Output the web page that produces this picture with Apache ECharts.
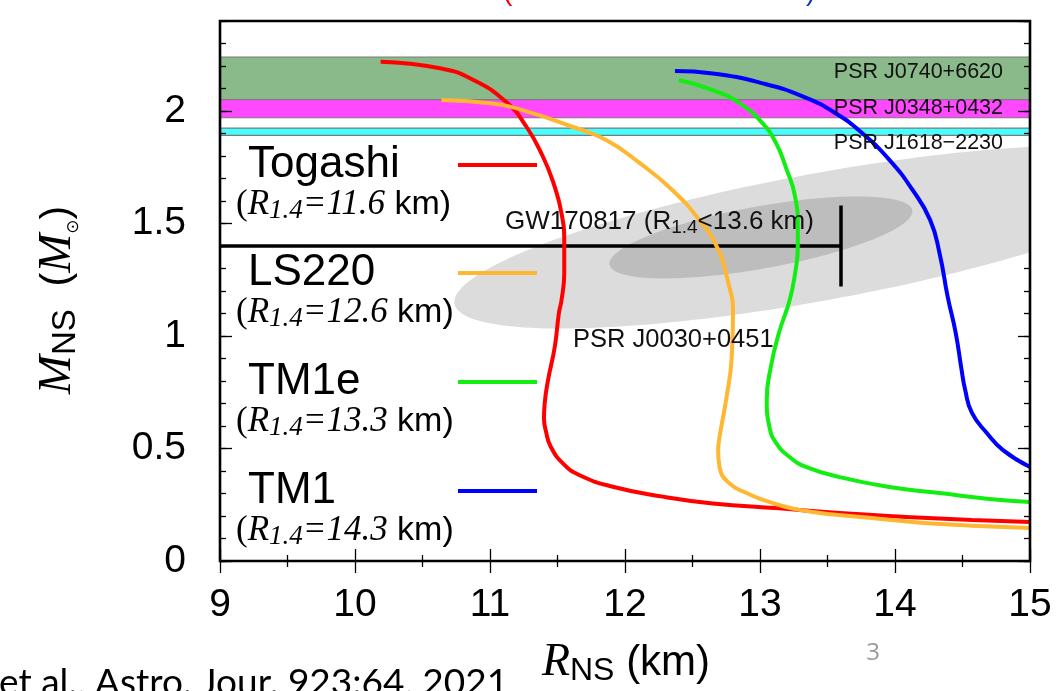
<!DOCTYPE html>
<html>
<head>
<meta charset="utf-8">
<script src="https://cdn.jsdelivr.net/npm/echarts@6/dist/echarts.min.js"></script>
<style>
html,body{margin:0;padding:0;background:#fff;}
#chart{width:1064px;height:691px;}
</style>
</head>
<body>
<div id="chart"></div>
<script>
// Mass–radius relations [R (km), M (Msun)] for four equations of state
const togashi = [[10.19,2.219],[10.63,2.19],[10.87,2.14],[11.12,2.04],[11.27,1.93],[11.39,1.80],[11.47,1.68],[11.53,1.545],[11.55,1.41],[11.55,1.28],[11.53,1.16],[11.51,1.10],[11.48,0.952],[11.43,0.804],[11.405,0.70],[11.40,0.635],[11.415,0.575],[11.45,0.508],[11.54,0.434],[11.66,0.382],[11.91,0.330],[12.28,0.286],[12.65,0.256],[13.14,0.234],[13.59,0.213],[14.08,0.196],[14.57,0.182],[15.0,0.173]];
const ls220 = [[10.64,2.049],[11.00,2.034],[11.24,2.004],[11.61,1.93],[11.86,1.871],[12.11,1.768],[12.35,1.649],[12.55,1.516],[12.68,1.397],[12.76,1.249],[12.80,1.10],[12.79,0.90],[12.75,0.72],[12.70,0.55],[12.69,0.49],[12.70,0.418],[12.77,0.347],[12.90,0.302],[13.09,0.258],[13.39,0.218],[13.83,0.191],[14.33,0.164],[15.0,0.147]];
const tm1e = [[12.40,2.138],[12.65,2.093],[12.85,2.034],[13.02,1.945],[13.12,1.856],[13.19,1.752],[13.26,1.619],[13.28,1.486],[13.28,1.397],[13.26,1.279],[13.22,1.16],[13.14,1.013],[13.08,0.862],[13.05,0.716],[13.07,0.596],[13.12,0.524],[13.22,0.462],[13.34,0.418],[13.59,0.373],[13.96,0.329],[14.33,0.302],[14.70,0.276],[15.0,0.262]];
const tm1 = [[12.37,2.178],[12.65,2.167],[13.02,2.123],[13.32,2.064],[13.56,1.99],[13.76,1.90],[13.96,1.782],[14.13,1.649],[14.26,1.516],[14.33,1.368],[14.39,1.175],[14.45,1.013],[14.49,0.862],[14.52,0.76],[14.57,0.658],[14.68,0.569],[14.80,0.493],[15.0,0.418]];

const eosNames = ['Togashi','LS220','TM1e','TM1'];
const eosR14 = ['11.6','12.6','13.3','14.3'];
const eosColors = ['#ff0000','#ffb630','#12ee12','#0000ff'];

// Pulsar mass measurements [low, high] (Msun)
const pulsarNames = ['PSR J0740+6620','PSR J0348+0432','PSR J1618\u22122230'];
const pulsarMass = [[2.05,2.24],[1.97,2.05],[1.892,1.924]];
const pulsarColors = ['#8aba8a','#ff48ff','#48ffff'];

// NICER PSR J0030+0451 regions: [centre R, centre M, sigma R, sigma M, correlation]
const nicerOuter = [13.44,1.44,2.704,0.4067,0.709];
const nicerInner = [13.007,1.438,1.122,0.1822,0.637];
const regionColors = ['#dcdcdc','#bdbdbd'];

// GW170817 tidal-deformability bound on R_1.4
const gwMass = 1.4;
const gwRmax = 13.6;
const gwCapHalf = 0.18;

const X_MIN = 9, X_MAX = 15, Y_MIN = 0, Y_MAX = 2.4;
const GRID = {left:220, top:21, width:810, height:540};
const SANS = 'Liberation Sans, Arial, Helvetica, sans-serif';
const SERIF = 'Liberation Serif, Times New Roman, serif';

function xAxisDef(position, showLabel){
  return {
    type:'value', min:X_MIN, max:X_MAX, interval:1, position:position, z:1,
    axisLine:{show:false},
    axisTick:{show:true, inside:true, length:12, lineStyle:{color:'#000', width:1.3}},
    minorTick:{show:true, splitNumber:2, length:6, lineStyle:{color:'#000', width:1.3}},
    axisLabel:{show:showLabel, fontSize:39, color:'#000', fontFamily:SANS, margin:25},
    splitLine:{show:false}, minorSplitLine:{show:false}
  };
}
function yAxisDef(position, interval, len, showLabel){
  return {
    type:'value', min:Y_MIN, max:Y_MAX, interval:interval, position:position, z:1,
    axisLine:{show:false},
    axisTick:{show:true, inside:true, length:len, lineStyle:{color:'#000', width:1.3}},
    axisLabel:{show:showLabel, fontSize:39, color:'#000', fontFamily:SANS, margin:34, showMaxLabel:false},
    splitLine:{show:false}
  };
}

function renderBand(params, api){
  const a = api.coord([api.value(0), api.value(3)]);
  const b = api.coord([api.value(2), api.value(1)]);
  return {type:'rect', shape:{x:a[0], y:a[1], width:b[0]-a[0], height:b[1]-a[1]},
    style:{fill:pulsarColors[params.dataIndex], stroke:'#7a7a7a', lineWidth:1.2}};
}

function renderRegion(params, api){
  const cR = api.value(0), cM = api.value(1), sR = api.value(2), sM = api.value(3), rho = api.value(4);
  const k = Math.sqrt(1 - rho*rho);
  const pts = [];
  for (let j = 0; j <= 180; j++){
    const t = j/180*2*Math.PI, c = Math.cos(t), s = Math.sin(t);
    pts.push(api.coord([cR + sR*c, cM + sM*(rho*c + k*s)]));
  }
  const cs = params.coordSys;
  return {type:'polygon', shape:{points:pts}, style:{fill:regionColors[params.dataIndex]},
    clipPath:{type:'rect', shape:{x:cs.x, y:cs.y, width:cs.width, height:cs.height}}};
}

const eosData = [togashi, ls220, tm1e, tm1];
const curveSeries = eosData.map((d,i) => ({
  type:'line', name:eosNames[i], data:d, smooth:0.5, showSymbol:false, clip:true,
  lineStyle:{color:eosColors[i], width:4}, z:4, silent:true
}));

// Legend block and annotations (pixel layout)
const graphics = [];
const legendY = [165, 273, 382, 491];
eosNames.forEach((n,i) => {
  const y = legendY[i];
  graphics.push({type:'text', x:248, y:y, z:50, style:{text:n, fontSize:44, fontFamily:SANS, fill:'#000', align:'left', verticalAlign:'middle', textAlign:'left', textVerticalAlign:'middle'}});
  graphics.push({type:'line', z:50, shape:{x1:458, y1:y, x2:537, y2:y}, style:{stroke:eosColors[i], lineWidth:4}});
  graphics.push({type:'text', x:236, y:y+40, z:50, style:{
    text:'{p|(}{i|R}{s|1.4}{i|=' + eosR14[i] + '}{n| km)}',
    align:'left', verticalAlign:'middle', textAlign:'left', textVerticalAlign:'middle',
    rich:{
      p:{fontFamily:SERIF, fontSize:35, lineHeight:38, fill:'#000'},
      i:{fontFamily:SERIF, fontStyle:'italic', fontSize:35, lineHeight:38, fill:'#000'},
      s:{fontFamily:SERIF, fontStyle:'italic', fontSize:27, lineHeight:20, verticalAlign:'bottom', fill:'#000'},
      n:{fontFamily:SANS, fontSize:34, lineHeight:38, fill:'#000'}
    }}});
});

const psrLabelY = [72, 108, 143];
pulsarNames.forEach((n,i) => {
  graphics.push({type:'text', x:1003, y:psrLabelY[i], z:50, style:{text:n, fontSize:21.5, fontFamily:SANS, fill:'#111', align:'right', verticalAlign:'middle', textAlign:'right', textVerticalAlign:'middle'}});
});
graphics.push({type:'text', x:573, y:340, z:50, style:{text:'PSR J0030+0451', fontSize:25.5, fontFamily:SANS, fill:'#111', align:'left', verticalAlign:'middle', textAlign:'left', textVerticalAlign:'middle'}});
graphics.push({type:'text', x:505, y:222, z:50, style:{
  text:'{n|GW170817 (R}{s|1.4}{n|<13.6 km)}', align:'left', verticalAlign:'middle', textAlign:'left', textVerticalAlign:'middle',
  rich:{n:{fontFamily:SANS, fontSize:26, lineHeight:30, fill:'#111'}, s:{fontFamily:SANS, fontSize:19, lineHeight:16, verticalAlign:'bottom', fill:'#111'}}}});

// Axis titles
graphics.push({type:'text', x:58, y:300, rotation:Math.PI/2, z:50, style:{
  text:'{i|M}{s|NS}{n|  (}{i|M}{o|\u2299}{n|)}', align:'center', verticalAlign:'middle', textAlign:'center', textVerticalAlign:'middle',
  rich:{
    i:{fontFamily:SERIF, fontStyle:'italic', fontSize:47, lineHeight:48, fill:'#000'},
    s:{fontFamily:SANS, fontSize:33, lineHeight:30, verticalAlign:'bottom', fill:'#000'},
    n:{fontFamily:SANS, fontSize:41, lineHeight:48, fill:'#000'},
    o:{fontFamily:'DejaVu Sans', fontSize:17, lineHeight:26, verticalAlign:'bottom', fill:'#000'}
  }}});
graphics.push({type:'text', x:626, y:663, z:50, style:{
  text:'{i|R}{s|NS}{n| (km)}', align:'center', verticalAlign:'middle', textAlign:'center', textVerticalAlign:'middle',
  rich:{
    i:{fontFamily:SERIF, fontStyle:'italic', fontSize:46, lineHeight:48, fill:'#000'},
    s:{fontFamily:SANS, fontSize:32, lineHeight:30, verticalAlign:'bottom', fill:'#000'},
    n:{fontFamily:SANS, fontSize:42, lineHeight:48, fill:'#000'}
  }}});

// Slide furniture around the figure
graphics.push({type:'text', x:873, y:653, z:50, style:{text:'3', fontSize:24, fontFamily:'Open Sans, sans-serif', fill:'#9a9a9a', align:'center', verticalAlign:'middle', textAlign:'center', textVerticalAlign:'middle'}});
graphics.push({type:'text', x:-1, y:665, z:50, style:{text:'et al., Astro. Jour. 923:64, 2021', fontSize:37, fontFamily:'Lato, Open Sans, sans-serif', fill:'#000', align:'left', verticalAlign:'top', textAlign:'left', textVerticalAlign:'top'}});
graphics.push({type:'text', x:503, y:-22, z:50, style:{text:'(', fontSize:28, fontFamily:SANS, fill:'#ee0000', align:'left', verticalAlign:'top', textAlign:'left', textVerticalAlign:'top'}});
graphics.push({type:'text', x:806, y:-22, z:50, style:{text:')', fontSize:28, fontFamily:SANS, fill:'#1030c0', align:'left', verticalAlign:'top', textAlign:'left', textVerticalAlign:'top'}});

// Plot frame on top of everything inside the grid
graphics.push({type:'rect', z:60, shape:{x:GRID.left, y:GRID.top, width:GRID.width, height:GRID.height}, style:{fill:'none', stroke:'#000', lineWidth:2.6}});

const option = {
  animation:false,
  backgroundColor:'#ffffff',
  grid:{left:GRID.left, top:GRID.top, width:GRID.width, height:GRID.height, containLabel:false},
  xAxis:[xAxisDef('bottom', true), xAxisDef('top', false)],
  yAxis:[yAxisDef('left', 0.5, 12, true), yAxisDef('left', 0.1, 6, false), yAxisDef('right', 0.5, 12, false), yAxisDef('right', 0.1, 6, false)],
  series:[
    {type:'custom', name:'pulsars', renderItem:renderBand, encode:{x:[0,2], y:[1,3]}, z:1, silent:true,
      data:pulsarMass.map(m => [X_MIN, m[0], X_MAX, m[1]])},
    {type:'custom', name:'J0030', renderItem:renderRegion, encode:{x:0, y:1}, z:2, silent:true,
      data:[nicerOuter, nicerInner]},
    {type:'line', name:'gw', data:[[X_MIN, gwMass],[gwRmax, gwMass]], showSymbol:false, z:3, silent:true,
      lineStyle:{color:'#000', width:3.5}},
    {type:'line', name:'gwcap', data:[[gwRmax, gwMass-gwCapHalf],[gwRmax, gwMass+gwCapHalf]], showSymbol:false, z:3, silent:true,
      lineStyle:{color:'#000', width:3.5}},
    ...curveSeries
  ],
  graphic:graphics
};

const chart = echarts.init(document.getElementById('chart'));
chart.setOption(option);
</script>
</body>
</html>
